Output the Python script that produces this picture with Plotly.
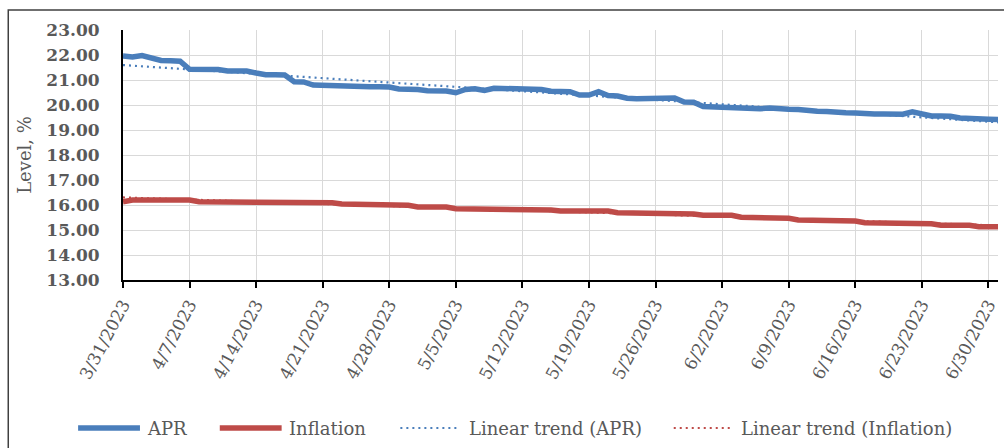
import numpy as np
import pandas as pd
import plotly.graph_objects as go

# Daily observations, 31 Mar 2023 - 1 Jul 2023
start_date = "2023-03-31"
end_date = "2023-07-01"

apr = [
    21.96, 21.92, 21.98, 21.90, 21.78, 21.77, 21.75, 21.43, 21.43, 21.43,
    21.42, 21.36, 21.36, 21.36, 21.28, 21.21, 21.21, 21.20, 20.93, 20.92,
    20.80, 20.78, 20.77, 20.75, 20.73, 20.73, 20.73, 20.73, 20.72, 20.64,
    20.64, 20.62, 20.57, 20.57, 20.56, 20.49, 20.62, 20.65, 20.58, 20.67,
    20.67, 20.66, 20.63, 20.63, 20.62, 20.55, 20.55, 20.53, 20.40, 20.40,
    20.53, 20.38, 20.36, 20.27, 20.25, 20.25, 20.25, 20.29, 20.28, 20.12,
    20.11, 19.94, 19.93, 19.92, 19.86, 19.85, 19.85, 19.85, 19.88, 19.83,
    19.83, 19.82, 19.76, 19.75, 19.74, 19.69, 19.69, 19.68, 19.64, 19.64,
    19.64, 19.63, 19.63, 19.73, 19.62, 19.56, 19.56, 19.55, 19.48, 19.48,
    19.47, 19.43, 19.42,
]

inflation = [
    16.13, 16.20, 16.20, 16.20, 16.20, 16.20, 16.20, 16.20, 16.13, 16.13,
    16.13, 16.13, 16.13, 16.13, 16.13, 16.13, 16.13, 16.09, 16.09, 16.09,
    16.09, 16.09, 16.09, 16.04, 16.04, 16.04, 16.04, 15.99, 15.99, 15.99,
    15.99, 15.92, 15.92, 15.92, 15.92, 15.85, 15.85, 15.85, 15.85, 15.85,
    15.85, 15.85, 15.80, 15.80, 15.80, 15.80, 15.76, 15.76, 15.76, 15.76,
    15.76, 15.76, 15.69, 15.69, 15.69, 15.69, 15.64, 15.64, 15.64, 15.64,
    15.64, 15.59, 15.59, 15.59, 15.59, 15.51, 15.51, 15.51, 15.47, 15.47,
    15.47, 15.40, 15.40, 15.40, 15.36, 15.36, 15.36, 15.36, 15.29, 15.29,
    15.29, 15.29, 15.25, 15.25, 15.25, 15.25, 15.19, 15.19, 15.19, 15.19,
    15.13, 15.13, 15.13,
]

tick_dates = [
    "2023-03-31", "2023-04-07", "2023-04-14", "2023-04-21", "2023-04-28",
    "2023-05-05", "2023-05-12", "2023-05-19", "2023-05-26", "2023-06-02",
    "2023-06-09", "2023-06-16", "2023-06-23", "2023-06-30",
]
tick_labels = [
    "3/31/2023", "4/7/2023", "4/14/2023", "4/21/2023", "4/28/2023",
    "5/5/2023", "5/12/2023", "5/19/2023", "5/26/2023", "6/2/2023",
    "6/9/2023", "6/16/2023", "6/23/2023", "6/30/2023",
]

series_names = ["APR", "Inflation", "Linear trend (APR)", "Linear trend (Inflation)"]

BLUE = "#4a7ebb"
RED = "#be4b48"
GREY_TEXT = "#595959"
GRID = "#d9d9d9"
FONT = "DejaVu Serif"
DOTS = "2px,4px"

dates = pd.date_range(start_date, end_date, freq="D")
day_index = np.arange(len(dates))

# Least-squares linear trend of each series
apr_fit = np.polyval(np.polyfit(day_index, apr, 1), day_index)
infl_fit = np.polyval(np.polyfit(day_index, inflation, 1), day_index)

fig = go.Figure()
fig.add_trace(go.Scatter(x=dates, y=apr_fit, mode="lines", name=series_names[2],
                         line=dict(color=BLUE, width=2.2, dash=DOTS), showlegend=False))
fig.add_trace(go.Scatter(x=dates, y=infl_fit, mode="lines", name=series_names[3],
                         line=dict(color=RED, width=2.2, dash=DOTS), showlegend=False))
fig.add_trace(go.Scatter(x=dates, y=apr, mode="lines", name=series_names[0],
                         line=dict(color=BLUE, width=5.5), showlegend=False))
fig.add_trace(go.Scatter(x=dates, y=inflation, mode="lines", name=series_names[1],
                         line=dict(color=RED, width=5.5), showlegend=False))

# Plot-area geometry in pixels (figure 1004 x 448)
W, H = 1004, 448
L, R, T, B = 123, 4, 30, 168
pw, ph = W - L - R, H - T - B


def px_x(px):
    return (px - L) / pw


def px_y(py):
    return (H - B - py) / ph


shapes = [
    # chart-area frame
    dict(type="rect", xref="paper", yref="paper",
         x0=px_x(8), x1=px_x(1012), y0=px_y(10), y1=px_y(470),
         line=dict(color="#404040", width=1.5), layer="below"),
]
annotations = []

# Legend drawn as line samples plus labels
legend_y = px_y(428)
legend_items = [
    (78, 140, 145, BLUE, "solid", 5.5, series_names[0]),
    (220, 282, 287, RED, "solid", 5.5, series_names[1]),
    (401, 461, 468, BLUE, DOTS, 2.2, series_names[2]),
    (675, 734, 740, RED, DOTS, 2.2, series_names[3]),
]
for x0, x1, xt, col, dash, w, label in legend_items:
    shapes.append(dict(type="line", xref="paper", yref="paper",
                       x0=px_x(x0), x1=px_x(x1), y0=legend_y, y1=legend_y,
                       line=dict(color=col, width=w, dash=dash)))
    annotations.append(dict(xref="paper", yref="paper", x=px_x(xt), y=legend_y,
                            text=label, showarrow=False, xanchor="left",
                            yanchor="middle",
                            font=dict(family=FONT, size=18, color=GREY_TEXT)))

fig.update_layout(
    width=W, height=H,
    margin=dict(l=L, r=R, t=T, b=B),
    paper_bgcolor="white", plot_bgcolor="white",
    showlegend=False,
    shapes=shapes,
    annotations=annotations,
)

fig.update_xaxes(
    type="date",
    range=[start_date, end_date],
    tickmode="array", tickvals=tick_dates, ticktext=tick_labels,
    tickangle=-62,
    tickfont=dict(family=FONT, size=17, color=GREY_TEXT),
    ticks="outside", ticklen=6, tickwidth=2, tickcolor="black",
    showline=True, linecolor="black", linewidth=2,
    showgrid=True, gridcolor=GRID, gridwidth=1,
    zeroline=False,
)
fig.update_yaxes(
    range=[13, 23], dtick=1, tickformat=".2f",
    tickfont=dict(family=FONT, size=17, color=GREY_TEXT, weight="bold"),
    ticks="", ticklabelstandoff=18,
    showline=True, linecolor="black", linewidth=2,
    showgrid=True, gridcolor=GRID, gridwidth=1,
    zeroline=False,
    title=dict(text="Level, %", font=dict(family=FONT, size=18, color=GREY_TEXT),
               standoff=10),
)

fig.write_html("out.html")
